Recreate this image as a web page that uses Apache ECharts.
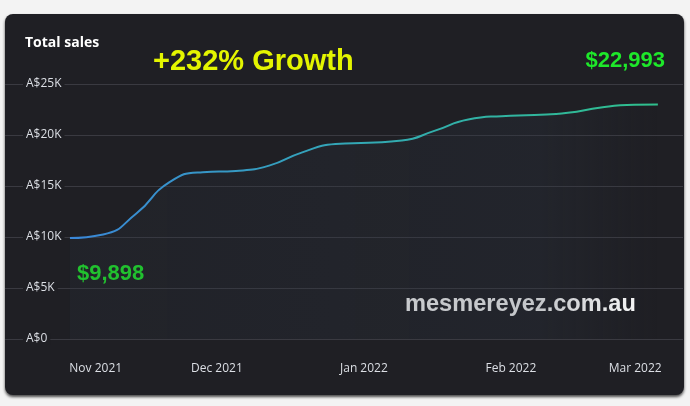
<!DOCTYPE html>
<html>
<head>
<meta charset="utf-8">
<script src="https://cdn.jsdelivr.net/npm/echarts@6/dist/echarts.min.js"></script>
<style>
html, body { margin: 0; padding: 0; background: #f3f3f3; }
#card {
	position: absolute; left: 5px; top: 14px; width: 679px; height: 381px;
	background: #1f1f24; border-radius: 8px;
	box-shadow: 0 2px 3px rgba(0,0,0,0.7);
}
#chart { position: absolute; left: 0; top: 0; width: 690px; height: 406px; }
</style>
</head>
<body>
<div id="card"></div>
<div id="chart"></div>
<script>
// weekly running total of sales
var dates = ['2021-10-31','2021-11-07','2021-11-14','2021-11-21','2021-11-28',
	'2021-12-05','2021-12-12','2021-12-19','2021-12-26','2022-01-02',
	'2022-01-09','2022-01-16','2022-01-23','2022-01-30','2022-02-06',
	'2022-02-13','2022-02-20','2022-02-27','2022-03-04'];
var sales = [9898, 10250, 12300, 15380, 16360,
	16480, 17000, 18300, 19110, 19250,
	19450, 20430, 21520, 21850, 21950,
	22170, 22700, 22960, 22993];
var monthTicks = ['2021-11-01','2021-12-01','2022-01-01','2022-02-01','2022-03-01'];
var monthNames = ['Jan','Feb','Mar','Apr','May','Jun','Jul','Aug','Sep','Oct','Nov','Dec'];
var yTicks = [0, 5000, 10000, 15000, 20000, 25000];

var DAY = 86400000;
function ts(s){
	var p = s.split('-');
	return Date.UTC(+p[0], +p[1] - 1, +p[2]);
}
var start = ts(dates[0]);
var seriesData = [];
for(var i=0; i<dates.length; i++){
	seriesData.push([ts(dates[i]), sales[i]]);
}
var labelFont = '"Open Sans", "Noto Sans", sans-serif';

var option = {
	animation: false,
	backgroundColor: 'transparent',
	grid: { left: 5, right: 7, top: 84, bottom: 67 },
	xAxis: {
		type: 'value',
		min: start - 13.7 * DAY,
		max: start + 129.3 * DAY,
		axisLine: { show: false },
		axisTick: { show: false },
		splitLine: { show: false },
		axisLabel: {
			customValues: monthTicks.map(ts),
			margin: 24,
			color: '#dcdfe5',
			fontSize: 12,
			fontFamily: labelFont,
			formatter: function(v){
				var d = new Date(v);
				var txt = monthNames[d.getUTCMonth()] + ' ' + d.getUTCFullYear();
				if(d.getUTCMonth() === 10) return '{first|' + txt + '}';
				if(d.getUTCMonth() === 2) return '{last|' + txt + '}';
				return txt;
			},
			rich: {
				first: { padding: [0, 0, 0, 42], color: '#dcdfe5', fontSize: 12, fontFamily: labelFont },
				last: { padding: [0, 17, 0, 0], color: '#dcdfe5', fontSize: 12, fontFamily: labelFont }
			}
		}
	},
	yAxis: {
		type: 'value',
		min: yTicks[0],
		max: yTicks[yTicks.length - 1],
		interval: 5000,
		axisLine: { show: false },
		axisTick: { show: false },
		splitLine: { lineStyle: { color: '#3a3a41', width: 1 } },
		axisLabel: {
			inside: true,
			margin: 18,
			padding: [0, 3],
			backgroundColor: '#1f1f24',
			color: '#dcdfe5',
			fontSize: 12,
			fontFamily: labelFont,
			formatter: function(v){
				return v === 0 ? 'A$0' : 'A$' + (v / 1000) + 'K';
			}
		}
	},
	series: [{
		type: 'line',
		data: seriesData,
		smooth: 0.55,
		showSymbol: false,
		lineStyle: {
			width: 2,
			color: new echarts.graphic.LinearGradient(0, 0, 1, 0, [
				{ offset: 0, color: '#3a86d8' },
				{ offset: 0.5, color: '#33a9b4' },
				{ offset: 1, color: '#2fc08c' }
			])
		},
		areaStyle: {
			color: new echarts.graphic.LinearGradient(0, 0, 1, 0, [
				{ offset: 0, color: 'rgba(44,52,64,0.3)' },
				{ offset: 0.8, color: 'rgba(44,52,64,0.4)' },
				{ offset: 1, color: 'rgba(44,52,64,0)' }
			])
		}
	}],
	graphic: [
		{ type: 'text', left: 25, top: 36,
			style: { text: 'Total sales', fill: '#ffffff', font: 'bold 14px "Open Sans", "Noto Sans", sans-serif' } },
		{ type: 'text', x: 153, y: 62,
			style: { text: '+232% Growth', fill: '#e4f500', verticalAlign: 'middle',
				font: 'bold 29px "Liberation Sans", Arial, sans-serif' } },
		{ type: 'text', x: 665, y: 61,
			style: { text: '$22,993', fill: '#1ee82a', align: 'right', verticalAlign: 'middle',
				font: 'bold 22px "Liberation Sans", Arial, sans-serif' } },
		{ type: 'text', x: 77, y: 274,
			style: { text: '$9,898', fill: '#1ee82a', verticalAlign: 'middle',
				font: 'bold 22px "Liberation Sans", Arial, sans-serif' } },
		{ type: 'text', x: 405, y: 304,
			style: { text: 'mesmereyez.com.au', fill: '#ffffff', verticalAlign: 'middle',
				font: 'bold 23.6px "Liberation Sans", Arial, sans-serif' } }
	]
};

var chart = echarts.init(document.getElementById('chart'));
chart.setOption(option);
</script>
</body>
</html>
